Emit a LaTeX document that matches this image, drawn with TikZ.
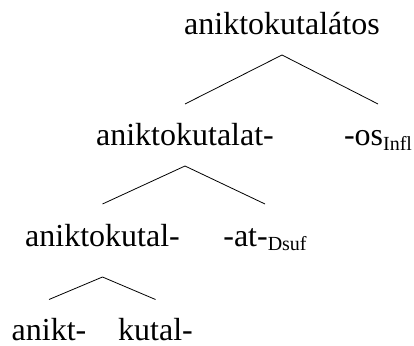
\documentclass[tikz,border=0pt]{standalone}
\usepackage{fontspec}
\setmainfont{Liberation Serif}
\usepackage{tikz}
\usetikzlibrary{positioning}
\newcommand{\morphsub}[1]{\raisebox{-5pt}{\fontsize{20}{20}\selectfont #1}}

\begin{document}
\begin{tikzpicture}[x=1pt, y=1pt,
    morph/.style={anchor=base, inner sep=0pt, outer ysep=20pt, text height=22pt, text depth=0pt, font=\fontsize{32}{38}\selectfont},
    branch/.style={line width=0.8pt}]

\useasboundingbox (0,0) rectangle (414,345);

% Whole word
\node[morph] (root) at (282,310) {aniktokutalátos};

% Stem + inflection
\node[morph] (stemA) at (185,199) {aniktokutalat-};
\node[morph] (infl) at (378,199) {-os\morphsub{Infl}};

% Stem + derivational suffix
\node[morph, text depth=11pt] (stemB) at (102.5,99) {aniktokutal-};
\node[morph] (dsuf) at (265,99) {-at-\morphsub{Dsuf}};

% Compound parts
\node[morph, outer ysep=19pt] (anikt) at (49,4.5) {anikt-};
\node[morph, outer ysep=19pt] (kutal) at (155.5,4.5) {kutal-};

% Branches
\draw[branch] (root.south) -- (stemA.north);
\draw[branch] (root.south) -- (infl.north);

\draw[branch] (stemA.south) -- (stemB.north);
\draw[branch] (stemA.south) -- (dsuf.north);

\draw[branch] (stemB.south) -- (anikt.north);
\draw[branch] (stemB.south) -- (kutal.north);
\end{tikzpicture}
\end{document}
